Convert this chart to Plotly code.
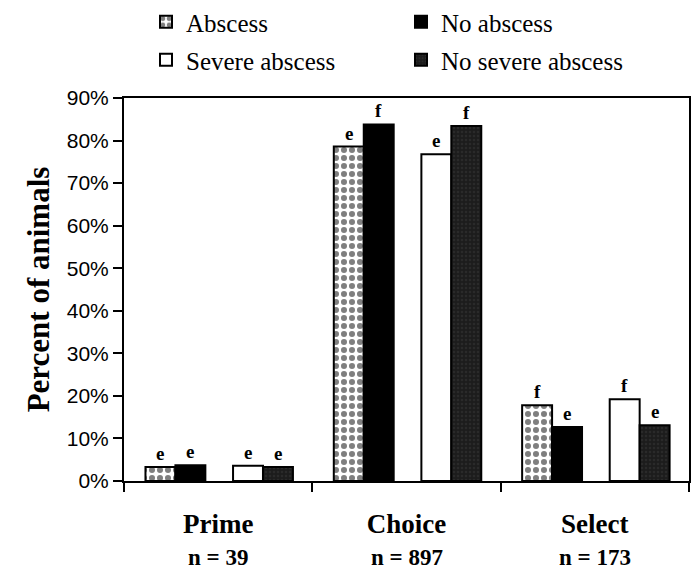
import plotly.graph_objects as go

categories = ["Prime", "Choice", "Select"]
n_labels = ["n = 39", "n = 897", "n = 173"]

series_names = ["Abscess", "No abscess", "Severe abscess", "No severe abscess"]
abscess = [0.033, 0.786, 0.178]
no_abscess = [0.037, 0.838, 0.127]
severe_abscess = [0.036, 0.768, 0.192]
no_severe_abscess = [0.033, 0.834, 0.131]

abscess_letters = ["e", "e", "f"]
no_abscess_letters = ["e", "f", "e"]
severe_letters = ["e", "e", "f"]
no_severe_letters = ["e", "f", "e"]

SERIF = "Liberation Serif, Times New Roman, serif"
SANS = "Liberation Sans"

series = [
    (series_names[0], abscess, abscess_letters),
    (series_names[1], no_abscess, no_abscess_letters),
    (series_names[2], severe_abscess, severe_letters),
    (series_names[3], no_severe_abscess, no_severe_letters),
]
styles = [
    dict(color="white", pattern=dict(shape=".", fgcolor="black", bgcolor="white", size=8, solidity=0.45, fillmode="overlay")),
    dict(color="black"),
    dict(color="white"),
    dict(color="#222222", pattern=dict(shape=".", fgcolor="#383838", bgcolor="#1c1c1c", size=4, solidity=0.3, fillmode="overlay")),
]
legend_ids = ["legend", "legend", "legend2", "legend2"]
offsets = [-0.386, -0.227, 0.079, 0.238]
width = 0.159

PLOT_L, PLOT_R, PLOT_T, PLOT_B = 124, 7, 98, 88
W, H = 696, 569
cat_px = (W - PLOT_L - PLOT_R) / len(categories)
plot_h = H - PLOT_T - PLOT_B
plot_w = W - PLOT_L - PLOT_R

fig = go.Figure()
for (name, vals, letters), st, off, lg in zip(series, styles, offsets, legend_ids):
    marker = dict(color=st["color"], line=dict(color="black", width=2))
    if "pattern" in st:
        marker["pattern"] = st["pattern"]
    fig.add_trace(go.Bar(
        name=name, x=categories, y=vals,
        offset=off, width=width,
        marker=marker, legend=lg,
    ))
    for cat, v, t in zip(categories, vals, letters):
        fig.add_annotation(x=cat, y=v, xref="x", yref="y",
                           xshift=(off + width / 2) * cat_px, yshift=1,
                           yanchor="bottom", text=f"<b>{t}</b>", showarrow=False,
                           font=dict(family=SERIF, size=19, color="black"))

for cat, n in zip(categories, n_labels):
    fig.add_annotation(x=cat, y=(-(557 - (H - PLOT_B))) / plot_h, xref="x", yref="paper",
                       yanchor="middle", text=f"<b>{n}</b>", showarrow=False,
                       font=dict(family=SERIF, size=23, color="black"))

fig.update_layout(
    width=W, height=H,
    margin=dict(l=PLOT_L, r=PLOT_R, t=PLOT_T, b=PLOT_B, autoexpand=False),
    paper_bgcolor="white", plot_bgcolor="white",
    font=dict(family=SERIF, color="black"),
    barmode="overlay",
    showlegend=True,
    xaxis=dict(showline=True, linecolor="black", linewidth=2, mirror=True,
               ticks="outside", tickson="boundaries", ticklen=9, tickwidth=2, tickcolor="black",
               tickfont=dict(family=SERIF, size=27, color="black"),
               ticklabelstandoff=18,
               tickvals=categories, ticktext=[f"<b>{c}</b>" for c in categories],
               range=[-0.5, 2.5], showgrid=False),
    yaxis=dict(range=[0, 0.9], dtick=0.1, tickformat=".0%",
               showline=True, linecolor="black", linewidth=2, mirror=True,
               ticks="outside", ticklen=9, tickwidth=2, tickcolor="black",
               tickfont=dict(family=SANS, size=21, color="black"),
               showgrid=False, zeroline=False,
               title=dict(text="<b>Percent of animals</b>", font=dict(family=SERIF, size=31, color="black"), standoff=8)),
)
for key, row_y in (("legend", 22), ("legend2", 60)):
    fig.update_layout({key: dict(
        orientation="h", xanchor="left", yanchor="middle",
        x=(146 - PLOT_L) / plot_w, y=((H - PLOT_B) - row_y) / plot_h,
        entrywidth=210, entrywidthmode="pixels",
        font=dict(family="Liberation Serif", size=25, color="black"),
        itemwidth=30, traceorder="normal", bgcolor="rgba(0,0,0,0)")})

fig.write_html("out.html", config={"displayModeBar": False},
               post_script="document.body.style.margin='0px';")
